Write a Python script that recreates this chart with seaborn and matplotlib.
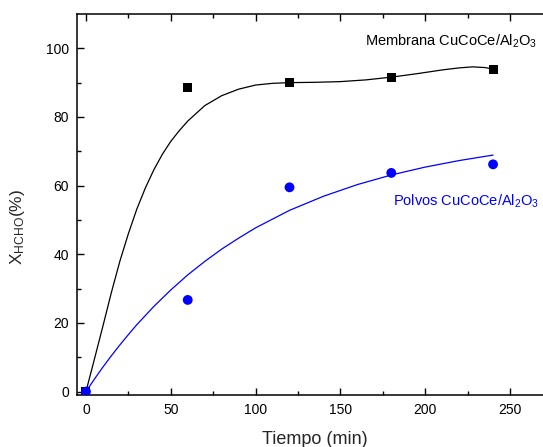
import numpy as np
import pandas as pd
import matplotlib
matplotlib.use("Agg")
import matplotlib.pyplot as plt
import seaborn as sns

# measured points
tiempo = [0, 60, 120, 180, 240]
membrana = [0, 88.7, 89.9, 91.6, 93.9]
polvos = [0, 26.7, 59.5, 63.7, 66.2]

# smooth curves
curva_memb_x = [0, 5, 10, 15, 20, 25, 30, 35, 40, 45, 50, 55, 60, 70, 80, 90, 100, 110, 120,
                135, 150, 165, 180, 195, 210, 220, 228, 235, 240]
curva_memb_y = [0, 9.5, 19.1, 28.9, 38.0, 46.0, 53.2, 59.3, 64.6, 69.1, 72.9, 76.0, 78.8, 83.3, 86.2, 88.1, 89.3, 89.8, 90.0,
                90.1, 90.3, 90.8, 91.6, 92.6, 93.7, 94.3, 94.6, 94.4, 94.0]
curva_polv_x = [0, 5, 10, 15, 20, 25, 30, 40, 50, 60, 70, 80, 90, 100, 120, 140, 160, 180, 200, 220, 240]
curva_polv_y = [0, 3.65, 7.15, 10.45, 13.6, 16.6, 19.5, 24.8, 29.6, 34.0, 37.9, 41.5, 44.7, 47.7, 52.8, 56.9, 60.3, 63.1, 65.4, 67.3, 68.9]

sns.set_style("ticks")
plt.rcParams["font.family"] = ["Liberation Sans", "DejaVu Sans"]
plt.rcParams["mathtext.fontset"] = "custom"
plt.rcParams["mathtext.rm"] = "Liberation Sans"
plt.rcParams["mathtext.it"] = "Liberation Sans"

fig = plt.figure(figsize=(5.43, 4.47), dpi=100)
ax = fig.add_axes([0.1427, 0.1163, 0.8903, 0.8524])

sns.lineplot(x=curva_memb_x, y=curva_memb_y, ax=ax, color="black", lw=0.9, sort=False)
sns.lineplot(x=curva_polv_x, y=curva_polv_y, ax=ax, color="#0000ff", lw=0.9, sort=False)
sns.scatterplot(x=tiempo, y=membrana, ax=ax, marker="s", color="black", s=42, edgecolor="none", zorder=3)
sns.scatterplot(x=tiempo, y=polvos, ax=ax, marker="o", color="#0000ff", s=50, edgecolor="none", zorder=3)

ax.set_xlim(-5, 280)
ax.set_ylim(-1, 110)
ax.set_xticks([0, 50, 100, 150, 200, 250])
ax.set_xticks([25, 75, 125, 175, 225, 275], minor=True)
ax.set_yticks([0, 20, 40, 60, 80, 100])
ax.set_yticks([10, 30, 50, 70, 90], minor=True)
ax.tick_params(which="both", direction="in", top=True, right=True, width=1, labelsize=10, colors="black")
ax.tick_params(which="major", length=5, pad=6)
ax.tick_params(which="minor", length=3)
for sp in ax.spines.values():
    sp.set_linewidth(1.1)
    sp.set_color("black")

ax.set_xlabel("Tiempo (min)", fontsize=13)
ax.set_ylabel("X$_{\\mathregular{HCHO}}$(%)", fontsize=12.5)
ax.xaxis.set_label_coords(0.491, -0.095)
ax.yaxis.set_label_coords(-0.105, 0.44)

ax.text(164.5, 102, "Membrana CuCoCe/Al$_2$O$_3$", fontsize=10.5, color="black", va="center")
ax.text(180.8, 55.5, "Polvos CuCoCe/Al$_2$O$_3$", fontsize=10.5, color="#0000ff", va="center")

fig.savefig("out.png", dpi=100)
